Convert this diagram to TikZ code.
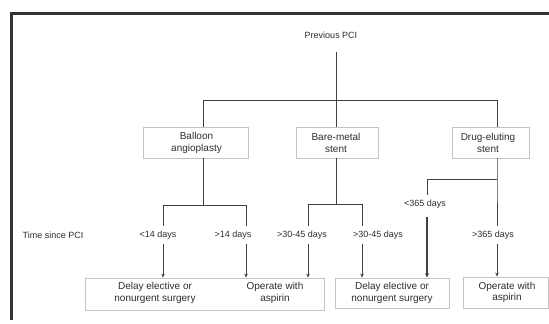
\documentclass[tikz,border=0pt]{standalone}
\usepackage{fontspec}
\setmainfont{Liberation Sans}
\usetikzlibrary{arrows.meta}
\definecolor{ink}{HTML}{2E2E2E}
\definecolor{lnc}{HTML}{404040}
\definecolor{bxc}{HTML}{C4C4C4}
\tikzset{
  x=1pt,y=-1pt,
  lbl/.style={font=\fontsize{9}{10}\selectfont, text=ink, inner xsep=1pt, inner ysep=5pt},
  boxtxt/.style={font=\fontsize{10}{11.5}\selectfont, text=ink, align=center, inner sep=0pt},
  bx/.style={draw=bxc, line width=0.8pt, fill=white, inner sep=0pt},
  ln/.style={draw=lnc, line width=0.9pt},
  arr/.style={draw=lnc, line width=0.9pt, -{Stealth[length=4pt,width=3.5pt]}},
  thickarr/.style={draw=lnc, line width=1.6pt, -{Stealth[length=4.5pt,width=4pt]}},
  frame/.style={draw=black!80, line width=2.5pt}
}
\begin{document}
\begin{tikzpicture}
\useasboundingbox[fill=white] (0,0) rectangle (549,324);
\draw[frame] (11.5,320) -- (11.5,13.5) -- (549,13.5);

% top
\node[lbl] (prev) at (331,35) {Previous PCI};
\coordinate (ptop) at (336,52);
\coordinate (hb) at (336,100);
\coordinate (bl) at (203,100);
\coordinate (br) at (497,100);

% first-level boxes
\node[bx, minimum width=105, minimum height=31] (bal) at (195.5,142.5) {};
\node[boxtxt] (baltxt) at (196.5,143) {Balloon\\angioplasty};
\node[bx, minimum width=82, minimum height=31] (bm) at (337,142.5) {};
\node[boxtxt] (bmtxt) at (336,143) {Bare-metal\\stent};
\node[bx, minimum width=77, minimum height=31] (de) at (490.5,142.5) {};
\node[boxtxt] (detxt) at (488,143) {Drug-eluting\\stent};

\draw[ln] (ptop) -- (hb);
\draw[ln] (bl |- bal.north) -- (bl) -- (br) -- (br |- de.north);
\draw[ln] (hb) -- (hb |- bm.north);

% labels
\node[lbl] (tsp) at (53,235) {Time since PCI};
\node[lbl] (lt14) at (158,235) {<14 days};
\node[lbl] (gt14) at (233,235) {>14 days};
\node[lbl] (bm1) at (302,235) {>30-45 days};
\node[lbl] (bm2) at (378,235) {>30-45 days};
\node[lbl] (lt365) at (425,204) {<365 days};
\node[lbl] (gt365) at (493,235) {>365 days};

% bottom boxes
\node[bx, minimum width=239, minimum height=32] (lbox) at (204.5,294) {};
\node[boxtxt] (dl1) at (155,293) {Delay elective or\\nonurgent surgery};
\node[boxtxt] (op1) at (275,293) {Operate with\\aspirin};
\node[bx, minimum width=114, minimum height=30] (mbox) at (392,293) {};
\node[boxtxt] (dl2) at (392,293) {Delay elective or\\nonurgent surgery};
\node[bx, minimum width=85, minimum height=31] (rbox) at (505.5,292.5) {};
\node[boxtxt] (op2) at (507,292.5) {Operate with\\aspirin};

% balloon branch
\coordinate (bj) at (203,205);
\coordinate (bjl) at (163,205);
\coordinate (bjr) at (246,205);
\draw[ln] (bl |- bal.south) -- (bj);
\draw[ln] (bjl |- lt14.north) -- (bjl) -- (bjr) -- (bjr |- gt14.north);
\draw[arr] (bjl |- lt14.south) -- (bjl |- lbox.north);
\draw[arr] (bjr |- gt14.south) -- (bjr |- lbox.north);

% bare-metal branch
\coordinate (mj) at (336,204);
\coordinate (mjl) at (308,204);
\coordinate (mjr) at (362,204);
\draw[ln] (mj |- bm.south) -- (mj);
\draw[ln] (mjl |- bm1.north) -- (mjl) -- (mjr) -- (mjr |- bm2.north);
\draw[arr] (mjl |- bm1.south) -- (mjl |- lbox.north);
\draw[arr] (mjr |- bm2.south) -- (mjr |- mbox.north);

% drug-eluting branch
\coordinate (dj) at (497,179);
\coordinate (djl) at (427,179);
\draw[ln] (dj |- de.south) -- (dj) -- (dj |- gt365.north);
\draw[ln] (dj) -- (djl) -- (djl |- lt365.north);
\draw[thickarr] ([yshift=-4pt]djl |- lt365.south) -- (djl |- mbox.north);
\draw[arr] (dj |- gt365.south) -- (dj |- rbox.north);
\end{tikzpicture}
\end{document}
